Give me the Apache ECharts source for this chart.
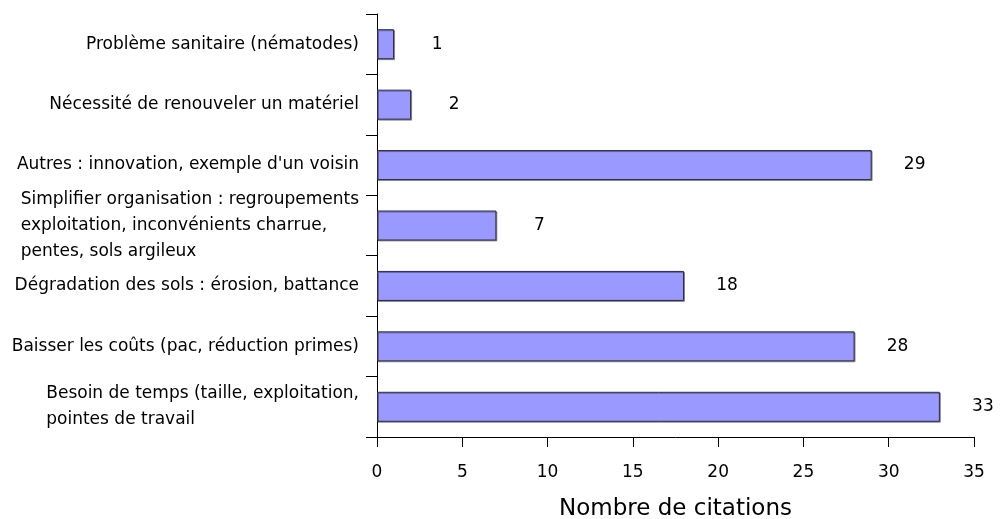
<!DOCTYPE html>
<html>
<head>
<meta charset="utf-8">
<script src="https://cdn.jsdelivr.net/npm/echarts@6/dist/echarts.min.js"></script>
<style>
  html, body { margin: 0; padding: 0; background: #ffffff; }
  #chart { width: 1000px; height: 519px; }
</style>
</head>
<body>
<div id="chart"></div>
<script>
// Reasons given for adopting the practice, listed top to bottom
const categories = [
  'Problème sanitaire (nématodes)',
  'Nécessité de renouveler un matériel',
  'Autres : innovation, exemple d\'un voisin',
  'Simplifier organisation : regroupements\nexploitation, inconvénients charrue,\npentes, sols argileux',
  'Dégradation des sols : érosion, battance',
  'Baisser les coûts (pac, réduction primes)',
  'Besoin de temps (taille, exploitation,\npointes de travail'
];
const citations = [1, 2, 29, 7, 18, 28, 33];
const xTicks = { min: 0, max: 35, interval: 5 };
const axisTitle = 'Nombre de citations';

const FONT = '"Comic Sans MS", "DejaVu Sans", sans-serif';

const chart = echarts.init(document.getElementById('chart'), null, { renderer: 'canvas' });

chart.setOption({
  backgroundColor: '#ffffff',
  animation: false,
  grid: {
    left: 377, right: 26, top: 14, bottom: 82,
    containLabel: false,
    outerBoundsMode: 'none'
  },
  xAxis: {
    type: 'value',
    min: xTicks.min,
    max: xTicks.max,
    interval: xTicks.interval,
    name: axisTitle,
    nameLocation: 'middle',
    nameGap: 61,
    nameTextStyle: { fontFamily: FONT, fontSize: 23, color: '#000' },
    axisLine: { show: true, lineStyle: { color: '#000', width: 1 } },
    axisTick: { show: true, length: 10, lineStyle: { color: '#000' } },
    axisLabel: { fontFamily: FONT, fontSize: 17, color: '#000', margin: 27 },
    splitLine: { show: false }
  },
  yAxis: {
    type: 'category',
    inverse: true,
    data: categories,
    axisLine: { show: true, lineStyle: { color: '#000', width: 1 } },
    axisTick: { show: true, length: 11, lineStyle: { color: '#000' } },
    axisLabel: {
      margin: 18,
      align: 'right',
      fontFamily: FONT,
      fontSize: 17,
      color: '#000',
      // each line starts at the same left edge inside its block
      formatter: v => v.split('\n').map(l => '{t|' + l + '}').join('\n'),
      rich: {
        t: { align: 'left', fontFamily: FONT, fontSize: 17, color: '#000', lineHeight: 26 }
      }
    }
  },
  series: [{
    type: 'bar',
    data: citations,
    barWidth: 30,
    itemStyle: {
      color: '#9999ff',
      borderColor: '#2b2b40',
      borderWidth: 1,
      shadowColor: 'rgba(0,0,0,0.35)',
      shadowOffsetX: 1,
      shadowOffsetY: 1,
      shadowBlur: 0
    },
    label: {
      show: true,
      position: 'right',
      distance: 43,
      align: 'center',
      fontFamily: FONT,
      fontSize: 17,
      color: '#000'
    }
  }]
});
</script>
</body>
</html>
